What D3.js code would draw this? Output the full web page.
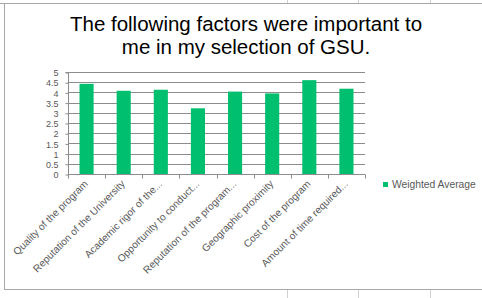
<!DOCTYPE html>
<html><head><meta charset="utf-8">
<script src="https://cdn.jsdelivr.net/npm/d3@7"></script>
<style>html,body{margin:0;padding:0;background:#fff;}svg{display:block;}</style>
</head><body>
<svg id="c" width="482" height="298"></svg>
<script>
const categories = ["Quality of the program","Reputation of the University","Academic rigor of the...","Opportunity to conduct...","Reputation of the program...","Geographic proximity","Cost of the program","Amount of time required..."];
const values = [4.42, 4.08, 4.13, 3.22, 4.04, 3.95, 4.6, 4.18];
const yTicks = [0,0.5,1,1.5,2,2.5,3,3.5,4,4.5,5];
const seriesName = "Weighted Average";
const titleLines = ["The following factors were important to","me in my selection of GSU."];

const svg = d3.select("#c");
const font = "'Liberation Sans', Arial, sans-serif";
const grey = "#d0d0d0";
// spreadsheet cell borders
svg.append("rect").attr("x",0).attr("y",0).attr("width",482).attr("height",298).attr("fill","#fff");
[287,358,430].forEach(x=>{
  svg.append("line").attr("x1",x+0.5).attr("x2",x+0.5).attr("y1",0).attr("y2",4).attr("stroke",grey);
  svg.append("line").attr("x1",x+0.5).attr("x2",x+0.5).attr("y1",290).attr("y2",298).attr("stroke",grey);
});
svg.append("line").attr("x1",0).attr("x2",482).attr("y1",3.5).attr("y2",3.5).attr("stroke","#a8a8a8");
svg.append("line").attr("x1",4).attr("x2",482).attr("y1",289.5).attr("y2",289.5).attr("stroke","#a8a8a8");
svg.append("line").attr("x1",4.5).attr("x2",4.5).attr("y1",3.5).attr("y2",289.5).attr("stroke","#a8a8a8");

// title
svg.append("text").attr("x",246).attr("y",31).attr("text-anchor","middle")
  .attr("font-family",font).attr("font-size",20.5).attr("fill","#000")
  .selectAll("tspan").data(titleLines).join("tspan")
  .attr("x",246).attr("dy",(d,i)=>i?23:0).text(d=>d);

const x0 = 68, x1 = 365, yTop = 72, yBot = 174;
const x = d3.scaleBand().domain(categories).range([x0,x1]).paddingInner(0.62).paddingOuter(0.31);
const xb = d3.scaleBand().domain(categories).range([x0,x1]);
const y = d3.scaleLinear().domain([0,5]).range([yBot,yTop]);

// gridlines
svg.append("g").selectAll("line").data(yTicks.filter(d=>d>0)).join("line")
  .attr("x1",x0).attr("x2",x1).attr("y1",d=>Math.round(y(d))+0.5).attr("y2",d=>Math.round(y(d))+0.5)
  .attr("stroke","#8c8c8c").attr("stroke-width",1);

// bars
svg.append("g").selectAll("rect").data(values).join("rect")
  .attr("x",(d,i)=>x(categories[i])).attr("width",x.bandwidth())
  .attr("y",d=>y(d)).attr("height",d=>y(0)-y(d)).attr("fill","#00BF6F");

// y axis
const ya = d3.axisLeft(y).tickValues(yTicks).tickSize(3).tickFormat(d=>String(d));
const gy = svg.append("g").attr("transform",`translate(${x0+0.5},0.5)`).call(ya);
gy.select(".domain").attr("stroke","#8c8c8c").attr("d",`M-3,${yTop}H0V${yBot}`);
gy.selectAll(".tick line").attr("stroke","#8c8c8c");
gy.selectAll(".tick text").attr("font-family",font).attr("font-size",9).attr("fill","#595959").attr("x",-10).attr("dy","0.35em");

// x axis
const gx = svg.append("g").attr("transform",`translate(0,${yBot+0.5})`);
gx.append("line").attr("x1",x0).attr("x2",x1).attr("stroke","#8c8c8c");
gx.selectAll("line.t").data(categories.concat(["__end"])).join("line").attr("class","t")
  .attr("x1",(d,i)=>Math.round(x0 + i*xb.step())+0.5).attr("x2",(d,i)=>Math.round(x0 + i*xb.step())+0.5)
  .attr("y1",0).attr("y2",4).attr("stroke","#8c8c8c");
gx.selectAll("text").data(categories).join("text")
  .attr("text-anchor","end").attr("font-family",font).attr("font-size",10.2).attr("fill","#595959")
  .attr("transform",d=>`translate(${xb(d)+xb.bandwidth()/2+2},${10}) rotate(-45)`)
  .text(d=>d);

// legend
const lg = svg.append("g").attr("transform","translate(383,182)");
lg.append("rect").attr("width",5).attr("height",5).attr("fill","#00BF6F");
lg.append("text").attr("x",9).attr("y",6).attr("font-family",font).attr("font-size",10.3).attr("fill","#595959").text(seriesName);
</script>
</body></html>
